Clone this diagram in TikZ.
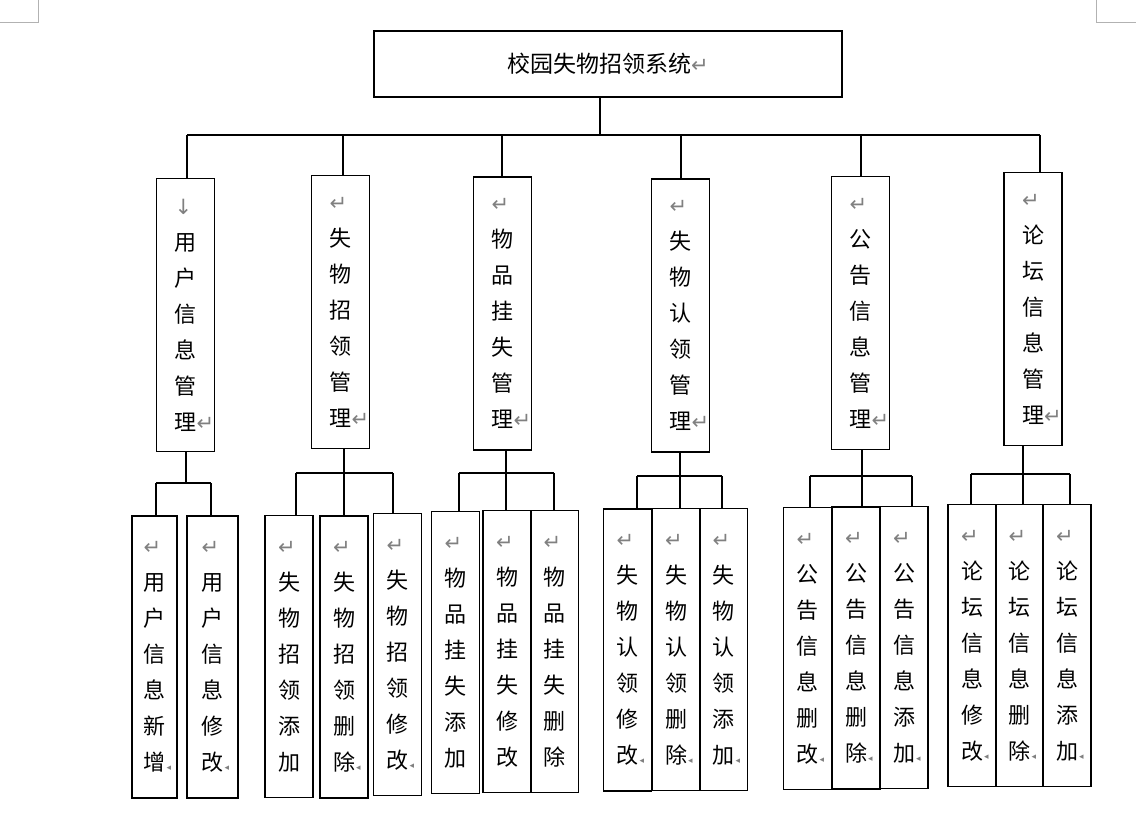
\documentclass[tikz,border=0pt]{standalone}
\usepackage{fontspec}
\usepackage{xcolor}
\usepackage{tikz}
\newfontfamily\cjk{Noto Sans CJK SC}
\newfontfamily\symf{DejaVu Sans}
\newcommand{\retmark}{{\symf\fontsize{21}{21}\selectfont\color{gray}↵}}
\newcommand{\downmark}{{\symf\fontsize{21}{21}\selectfont\color{gray}↓}}
\newcommand{\tailmark}{\rlap{\retmark}}
\newcommand{\tailcut}{\rlap{\hspace{1pt}{\symf\fontsize{9}{9}\selectfont\color{gray}◂}}}

\begin{document}
\begin{tikzpicture}[x=1pt, y=-1pt, line width=1.5pt,
    titlebox/.style={draw, minimum width=468pt, minimum height=66pt, inner sep=0pt,
      font=\cjk\fontsize{23}{28}\selectfont},
    mainbox/.style={draw, minimum width=58pt, minimum height=273pt, inner sep=0pt,
      align=left, font=\cjk\fontsize{22}{36}\selectfont},
    subbox/.style={draw, minimum width=48pt, minimum height=282pt, inner sep=0pt,
      align=left, font=\cjk\fontsize{22}{36}\selectfont},
    cropmark/.style={draw=gray!60, line width=0.8pt}]
  \useasboundingbox (0,0) rectangle (1136,813);
  % page corner marks
  \draw[cropmark] (38,0) -- (38,22) -- (0,22);
  \draw[cropmark] (1096,0) -- (1096,22) -- (1136,22);

  % root
  \node[titlebox] (top) at (608,64) {校园失物招领系统\retmark};

  % second level
  \node[mainbox] (m1) at (185.5,315) {\downmark\\用\\户\\信\\息\\管\\理\tailmark};
  \node[mainbox] (m2) at (340.5,312) {\retmark\\失\\物\\招\\领\\管\\理\tailmark};
  \node[mainbox] (m3) at (502.5,313.5) {\retmark\\物\\品\\挂\\失\\管\\理\tailmark};
  \node[mainbox] (m4) at (680.5,315.5) {\retmark\\失\\物\\认\\领\\管\\理\tailmark};
  \node[mainbox] (m5) at (860.5,313) {\retmark\\公\\告\\信\\息\\管\\理\tailmark};
  \node[mainbox] (m6) at (1033,309) {\retmark\\论\\坛\\信\\息\\管\\理\tailmark};

  % root to second level
  \coordinate (tc) at (600,135);
  \foreach \i/\x in {1/187,2/343,3/502,4/681,5/861,6/1040}
    \coordinate (t\i) at (\x,135);
  \draw (tc |- top.south) -- (tc);
  \draw (t1) -- (t6);
  \foreach \i in {1,...,6}
    \draw (t\i) -- (t\i |- m\i.north);

  % user info
  \node[subbox, minimum width=45pt] (s11) at (154.5,657) {\retmark\\用\\户\\信\\息\\新\\增\tailcut};
  \node[subbox, minimum width=51pt] (s12) at (212.5,657) {\retmark\\用\\户\\信\\息\\修\\改\tailcut};
  % lost and found
  \node[subbox] (s21) at (289,656.5) {\retmark\\失\\物\\招\\领\\添\\加};
  \node[subbox] (s22) at (344,657) {\retmark\\失\\物\\招\\领\\删\\除\tailcut};
  \node[subbox] (s23) at (397.5,654.5) {\retmark\\失\\物\\招\\领\\修\\改\tailcut};
  % report loss
  \node[subbox] (s31) at (455.5,652.5) {\retmark\\物\\品\\挂\\失\\添\\加};
  \node[subbox] (s32) at (507,651.5) {\retmark\\物\\品\\挂\\失\\修\\改};
  \node[subbox] (s33) at (554.5,651.5) {\retmark\\物\\品\\挂\\失\\删\\除};
  % claims
  \node[subbox] (s41) at (627.5,650) {\retmark\\失\\物\\认\\领\\修\\改\tailcut};
  \node[subbox] (s42) at (676,649.5) {\retmark\\失\\物\\认\\领\\删\\除\tailcut};
  \node[subbox] (s43) at (723.5,649.5) {\retmark\\失\\物\\认\\领\\添\\加\tailcut};
  % notices
  \node[subbox] (s51) at (807.5,648.5) {\retmark\\公\\告\\信\\息\\删\\改\tailcut};
  \node[subbox] (s52) at (856,648) {\retmark\\公\\告\\信\\息\\删\\除\tailcut};
  \node[subbox] (s53) at (904,647.5) {\retmark\\公\\告\\信\\息\\添\\加\tailcut};
  % forum
  \node[subbox] (s61) at (972,645.5) {\retmark\\论\\坛\\信\\息\\修\\改\tailcut};
  \node[subbox] (s62) at (1019.5,645.5) {\retmark\\论\\坛\\信\\息\\删\\除\tailcut};
  \node[subbox] (s63) at (1067,645.5) {\retmark\\论\\坛\\信\\息\\添\\加\tailcut};

  % second to third level
  \coordinate (c1) at (186,483);
  \coordinate (d11) at (156,483);
  \coordinate (d12) at (211,483);
  \draw (c1 |- m1.south) -- (c1);
  \draw (d11) -- (d12);
  \draw (d11) -- (d11 |- s11.north);
  \draw (d12) -- (d12 |- s12.north);
  \foreach \g/\y/\a/\b/\c in {2/473/296/344/393, 3/473/459/506/554,
      4/476/637/680/722, 5/476/810/862/912, 6/474/971/1023/1070} {
    \coordinate (d\g1) at (\a,\y);
    \coordinate (d\g2) at (\b,\y);
    \coordinate (d\g3) at (\c,\y);
    \draw (d\g2 |- m\g.south) -- (d\g2);
    \draw (d\g1) -- (d\g3);
    \foreach \j in {1,2,3}
      \draw (d\g\j) -- (d\g\j |- s\g\j.north);
  }
\end{tikzpicture}
\end{document}
